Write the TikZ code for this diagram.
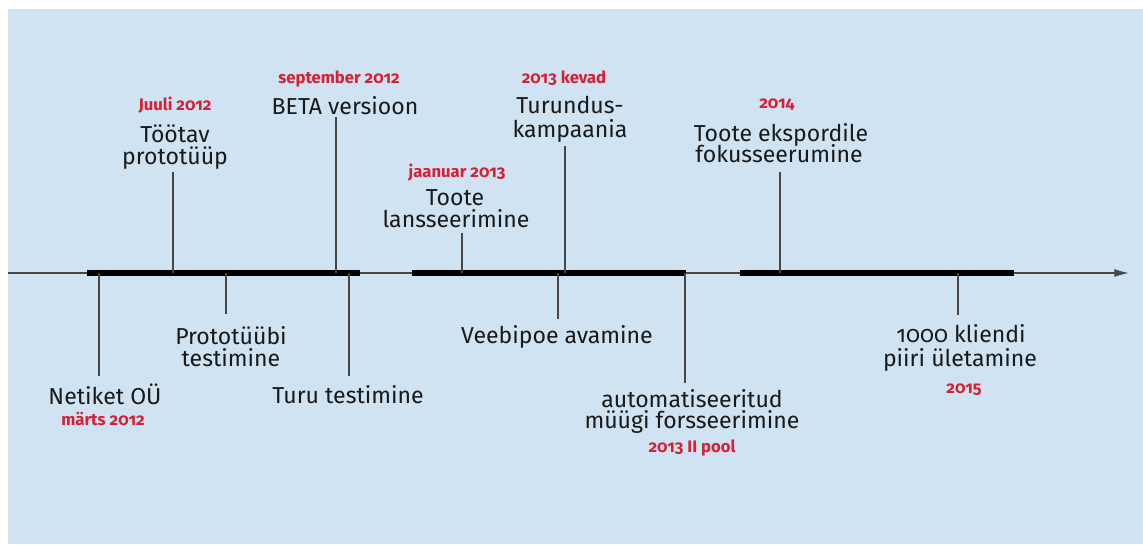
\documentclass[tikz,border=0pt]{standalone}
\usepackage{fontspec}
\setmainfont{Fira Sans}[Numbers=OldStyle,Ligatures=NoCommon]
\usetikzlibrary{arrows.meta}
\definecolor{bg}{RGB}{208,227,242}
\definecolor{datered}{RGB}{214,32,52}
\definecolor{ink}{RGB}{25,25,25}
\definecolor{tickc}{RGB}{70,70,70}
\tikzset{
 lbl/.style={anchor=base, inner sep=0pt, text=ink, font=\fontsize{17.3}{16.5}\selectfont},
 datelbl/.style={anchor=base, inner sep=0pt, text=datered, font=\bfseries\fontsize{12.5}{14}\selectfont},
 ticker/.style={draw=tickc, line width=1.1pt},
 barline/.style={draw=black, line width=5pt},
 axisline/.style={draw=tickc, line width=1.1pt, -{Latex[length=11pt,width=6pt]}}
}
\begin{document}
\begin{tikzpicture}[x=0.75pt,y=-0.75pt]
\useasboundingbox (0,0) rectangle (1143,544);
\fill[bg] (8,9) rectangle (1143,544);

% axis
\coordinate (ax0) at (8,273);
\coordinate (ax1) at (1129,273);
\draw[axisline] (ax0) -- (ax1);

% bars
\coordinate (b1a) at (87,273); \coordinate (b1b) at (360,273);
\coordinate (b2a) at (412,273); \coordinate (b2b) at (686,273);
\coordinate (b3a) at (740,273); \coordinate (b3b) at (1014,273);
\draw[barline] (b1a) -- (b1b);
\draw[barline] (b2a) -- (b2b);
\draw[barline] (b3a) -- (b3b);

% ticks
\coordinate (t1a) at (173,273); \coordinate (t1b) at (173,172);
\coordinate (t2a) at (336,273); \coordinate (t2b) at (336,117);
\coordinate (t3a) at (99,273);  \coordinate (t3b) at (99,376);
\coordinate (t4a) at (226,273); \coordinate (t4b) at (226,314);
\coordinate (t5a) at (349,273); \coordinate (t5b) at (349,376);
\coordinate (t6a) at (462,273); \coordinate (t6b) at (462,233);
\coordinate (t7a) at (565,273); \coordinate (t7b) at (565,146);
\coordinate (t8a) at (558,273); \coordinate (t8b) at (558,319);
\coordinate (t9a) at (685,273); \coordinate (t9b) at (685,383);
\coordinate (t10a) at (780,273); \coordinate (t10b) at (780,172);
\coordinate (t11a) at (958,273); \coordinate (t11b) at (958,315);
\foreach \i in {1,...,11} {\draw[ticker] (t\i a) -- (t\i b);}

% labels above
\node[datelbl] (d1) at (175,110) {Juuli 2012};
\node[lbl] (l1a) at (175,142) {Töötav};
\node[lbl] (l1b) at (175,164) {prototüüp};

\node[datelbl] (d2) at (339,83) {september 2012};
\node[lbl] (l2) at (345,114) {BETA versioon};

\node[datelbl] (d6) at (457,177) {jaanuar 2013};
\node[lbl] (l6a) at (455,205) {Toote};
\node[lbl] (l6b) at (456,227) {lansseerimine};

\node[datelbl] (d7) at (564,83) {2013 kevad};
\node[lbl] (l7a) at (570,113) {Turundus-};
\node[lbl] (l7b) at (570,137) {kampaania};

\node[datelbl] (d10) at (777,108) {2014};
\node[lbl] (l10a) at (781,141) {Toote ekspordile};
\node[lbl] (l10b) at (779,162) {fokusseerumine};

% labels below
\node[lbl] (l3) at (105,404) {Netiket OÜ};
\node[datelbl] (d3) at (103,425) {märts 2012};

\node[lbl] (l4a) at (231,344) {Prototüübi};
\node[lbl] (l4b) at (231,366) {testimine};

\node[lbl] (l5) at (348,403) {Turu testimine};

\node[lbl] (l8) at (557,343) {Veebipoe avamine};

\node[lbl] (l9a) at (692,407) {automatiseeritud};
\node[lbl] (l9b) at (692,428) {müügi forsseerimine};
\node[datelbl] (d9) at (692,452) {2013 II pool};

\node[lbl] (l11a) at (961,342) {1000 kliendi};
\node[lbl] (l11b) at (960,366) {piiri ületamine};
\node[datelbl] (d11) at (964,393) {2015};
\end{tikzpicture}
\end{document}
